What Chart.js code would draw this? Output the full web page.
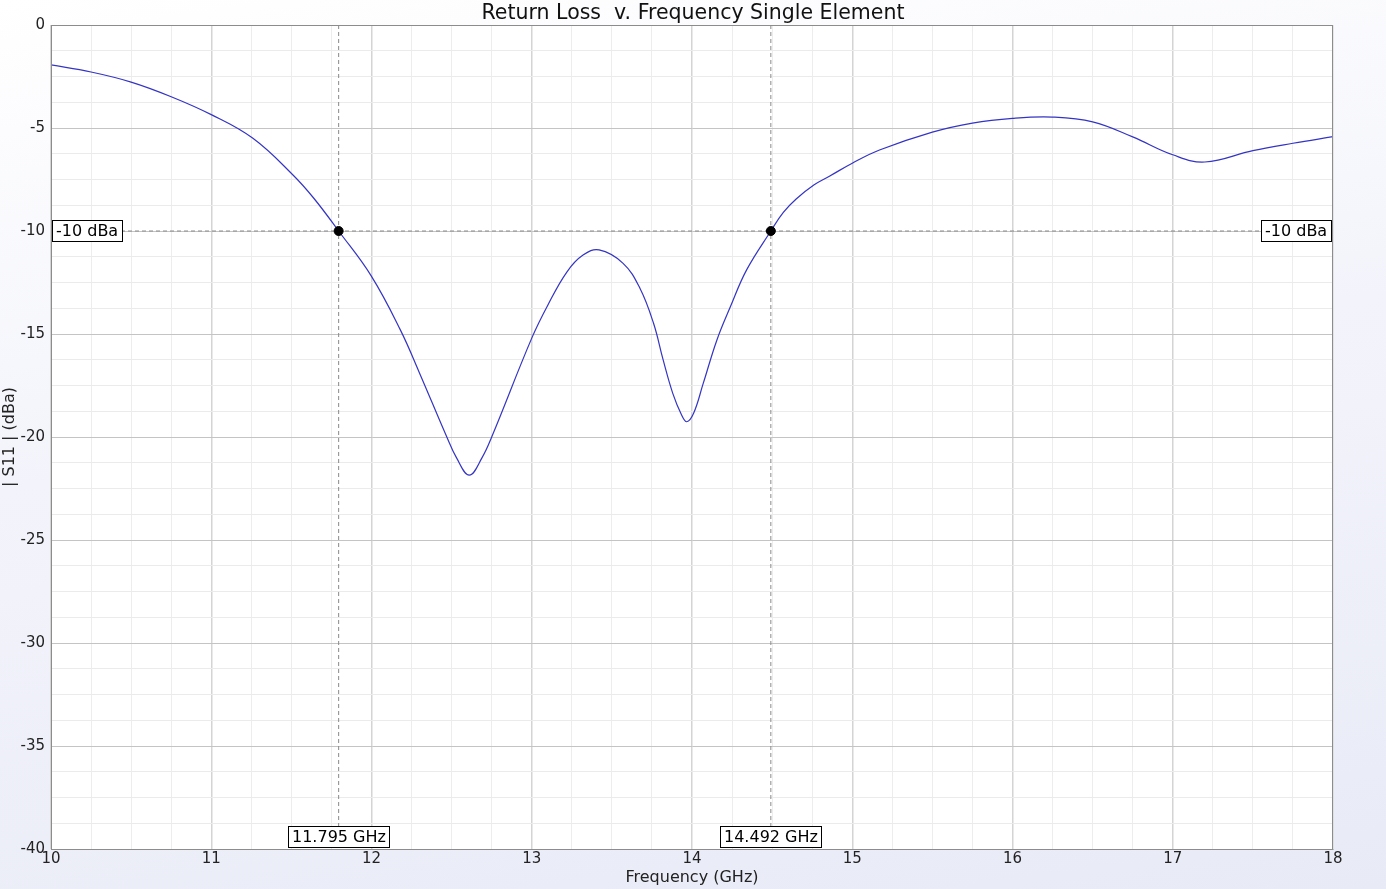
<!DOCTYPE html>
<html lang="en">
<head>
  <meta charset="UTF-8">
  <title>Return Loss v. Frequency Single Element</title>
  <script src="https://cdn.jsdelivr.net/npm/chart.js"></script>
  <style>
    body, html {
      width: 1386px;
      height: 889px;
      margin: 0;
      padding: 0;
      overflow: hidden;
      background: linear-gradient(172deg, #ffffff 0%, #f3f4fb 45%, #e8eaf6 100%);
    }
    .chart-box {
      position: relative;
      width: 1386px;
      height: 889px;
    }
  </style>
</head>
<body>
  <div class="chart-box">
    <canvas id="rlChart"></canvas>
  </div>

  <script>
    // frequency (GHz) and |S11| (dBa)
    const freqs = [10.0, 10.25, 10.5, 10.75, 11.0, 11.26, 11.51, 11.64, 11.795, 12.0,
                   12.18, 12.3, 12.47, 12.53, 12.61, 12.69, 12.75, 13.0, 13.1, 13.22,
                   13.32, 13.42, 13.57, 13.675, 13.76, 13.82, 13.88, 13.935, 13.967, 14.01,
                   14.07, 14.155, 14.24, 14.34, 14.492, 14.57, 14.65, 14.76, 14.86, 15.0,
                   15.17, 15.5, 15.75, 16.0, 16.25, 16.5, 16.75, 17.0, 17.2, 17.5,
                   17.75, 18.0];
    const s11 = [-1.94, -2.28, -2.77, -3.48, -4.35, -5.5, -7.28, -8.41, -10.0, -12.2,
                 -14.8, -16.9, -20.0, -21.0, -21.85, -21.0, -20.0, -15.2, -13.6, -11.98,
                 -11.17, -10.92, -11.57, -12.78, -14.48, -16.26, -17.88, -18.93, -19.26, -18.85,
                 -17.4, -15.3, -13.67, -11.9, -10.0, -9.1, -8.45, -7.77, -7.33, -6.71,
                 -6.07, -5.2, -4.76, -4.53, -4.47, -4.7, -5.43, -6.3, -6.65, -6.1,
                 -5.74, -5.42];

    // markers
    const refLevel = -10;
    const markerFreqs = [11.795, 14.492];

    const xMin = 10, xMax = 18, yMin = -40, yMax = 0;
    const FONT = 'DejaVu Sans';

    const curve = freqs.map((f, i) => ({ x: f, y: s11[i] }));
    const refLine = [{ x: xMin, y: refLevel }, { x: xMax, y: refLevel }];
    const markerPts = markerFreqs.map(f => ({ x: f, y: refLevel }));

    const datasets = [
      {
        label: 'S11',
        data: curve,
        borderColor: '#3434c4',
        borderWidth: 1.2,
        pointRadius: 0,
        tension: 0.4,
        order: 1
      },
      {
        label: 'ref',
        data: refLine,
        borderColor: '#8a8a8a',
        borderWidth: 1,
        borderDash: [4, 3],
        pointRadius: 0,
        order: 3
      }
    ];
    markerFreqs.forEach(f => {
      datasets.push({
        label: 'm' + f,
        data: [{ x: f, y: yMax }, { x: f, y: yMin }],
        borderColor: '#8a8a8a',
        borderWidth: 1,
        borderDash: [4, 3],
        pointRadius: 0,
        order: 3
      });
    });
    datasets.push({
      label: 'markers',
      data: markerPts,
      showLine: false,
      pointStyle: 'circle',
      pointRadius: 4.5,
      backgroundColor: '#000',
      borderColor: '#000',
      order: 0
    });

    // white plot area + frame + marker labels
    const plotDeco = {
      id: 'plotDeco',
      beforeDraw(chart) {
        const { ctx, chartArea: a } = chart;
        ctx.save();
        ctx.fillStyle = '#ffffff';
        ctx.fillRect(a.left, a.top, a.right - a.left, a.bottom - a.top);
        ctx.restore();
      },
      afterDraw(chart) {
        const { ctx, chartArea: a, scales } = chart;
        ctx.save();
        ctx.strokeStyle = '#8c8c8c';
        ctx.lineWidth = 1;
        ctx.strokeRect(a.left + 0.5, a.top + 0.5, a.right - a.left - 1, a.bottom - a.top);

        ctx.font = '16px "' + FONT + '"';
        ctx.textBaseline = 'middle';
        const boxH = 22;
        const measure = txt => Math.ceil(ctx.measureText(txt).width) + 8;
        const drawBox = (txt, left, top) => {
          const w = measure(txt);
          ctx.fillStyle = '#fff';
          ctx.fillRect(left, top, w, boxH);
          ctx.strokeStyle = '#000';
          ctx.strokeRect(left + 0.5, top + 0.5, w - 1, boxH - 1);
          ctx.fillStyle = '#000';
          ctx.textAlign = 'left';
          ctx.fillText(txt, left + 4, top + boxH / 2 + 1);
        };

        const yRef = scales.y.getPixelForValue(refLevel);
        const refTxt = refLevel + ' dBa';
        drawBox(refTxt, a.left + 1, Math.round(yRef - boxH / 2));
        drawBox(refTxt, a.right - 1 - measure(refTxt), Math.round(yRef - boxH / 2));

        markerFreqs.forEach(f => {
          const txt = f.toFixed(3) + ' GHz';
          const xp = scales.x.getPixelForValue(f);
          drawBox(txt, Math.round(xp - measure(txt) / 2), a.bottom - boxH - 1);
        });
        ctx.restore();
      }
    };

    const isMult = (v, m) => Math.abs(v / m - Math.round(v / m)) < 1e-6;

    const ctx = document.getElementById('rlChart').getContext('2d');
    new Chart(ctx, {
      type: 'line',
      data: { datasets },
      plugins: [plotDeco],
      options: {
        responsive: true,
        maintainAspectRatio: false,
        animation: false,
        layout: { padding: 0 },
        plugins: {
          legend: { display: false },
          tooltip: { enabled: false },
          title: {
            display: true,
            text: 'Return Loss  v. Frequency Single Element',
            color: '#111',
            font: { family: FONT, size: 20.5, weight: 'normal', lineHeight: 1.1 },
            padding: { top: 2, bottom: 0.45 }
          }
        },
        scales: {
          x: {
            type: 'linear',
            min: xMin,
            max: xMax,
            afterFit: s => { s.height = 40; },
            ticks: {
              stepSize: 0.25,
              autoSkip: false,
              maxRotation: 0,
              padding: 1,
              color: '#222',
              font: { family: FONT, size: 15 },
              callback: v => isMult(v, 1) ? String(Math.round(v)) : ''
            },
            grid: {
              drawTicks: false,
              color: c => isMult(c.tick.value, 1) ? '#d4d4d4' : '#ededed',
              lineWidth: c => isMult(c.tick.value, 1) ? 1.5 : 1
            },
            border: { color: '#8c8c8c' },
            title: {
              display: true,
              text: 'Frequency (GHz)',
              color: '#222',
              font: { family: FONT, size: 16 },
              padding: { top: 0, bottom: 2 }
            }
          },
          y: {
            type: 'linear',
            min: yMin,
            max: yMax,
            afterFit: s => { s.width = 51; },
            ticks: {
              stepSize: 1.25,
              autoSkip: false,
              padding: 6,
              color: '#222',
              font: { family: FONT, size: 15 },
              callback: v => isMult(v, 5) ? String(Math.round(v)) : ''
            },
            grid: {
              drawTicks: false,
              color: c => isMult(c.tick.value, 5) ? '#c4c4c4' : '#ebebeb',
              lineWidth: 1
            },
            border: { color: '#8c8c8c' },
            title: {
              display: true,
              text: '| S11 | (dBa)',
              color: '#222',
              font: { family: FONT, size: 16 },
              padding: { top: 0, bottom: 0 }
            }
          },
          // empty right-hand axis that only keeps the plot's right margin
          yRight: {
            type: 'linear',
            position: 'right',
            min: yMin,
            max: yMax,
            afterFit: s => { s.width = 53; },
            ticks: { display: false },
            grid: { display: false, drawOnChartArea: false },
            border: { display: false }
          }
        }
      }
    });
  </script>
</body>
</html>
